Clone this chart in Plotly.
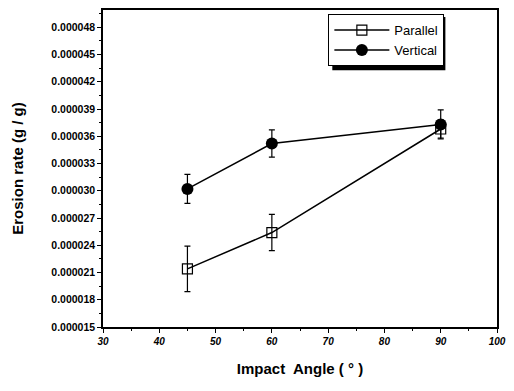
import plotly.graph_objects as go

angles = [45, 60, 90]
parallel = [0.0000214, 0.0000254, 0.0000368]
parallel_err = [0.0000025, 0.0000020, 0.0000010]
vertical = [0.0000302, 0.0000352, 0.0000373]
vertical_err = [0.0000016, 0.0000015, 0.0000016]
x_ticks = [30, 40, 50, 60, 70, 80, 90, 100]
y_ticks = [0.000015, 0.000018, 0.000021, 0.000024, 0.000027, 0.000030,
           0.000033, 0.000036, 0.000039, 0.000042, 0.000045, 0.000048]

font = "Liberation Sans, Arial, sans-serif"

fig = go.Figure()
fig.add_trace(go.Scatter(
    x=angles, y=parallel, name="Parallel", mode="lines+markers",
    line=dict(color="black", width=1.5),
    marker=dict(symbol="square-open", size=10, color="black", line=dict(width=1.2)),
    error_y=dict(type="data", array=parallel_err, color="black", thickness=1.2, width=3),
))
fig.add_trace(go.Scatter(
    x=angles, y=vertical, name="Vertical", mode="lines+markers",
    line=dict(color="black", width=1.5),
    marker=dict(symbol="circle", size=12, color="black"),
    error_y=dict(type="data", array=vertical_err, color="black", thickness=1.2, width=3),
))

# legend shadow
fig.add_shape(type="rect", xref="paper", yref="paper",
              x0=0.582, x1=0.869, y0=0.810, y1=0.978,
              fillcolor="black", line=dict(width=0), layer="above")

fig.update_layout(
    width=514, height=391,
    margin=dict(l=103, r=14, t=8, b=64),
    paper_bgcolor="white", plot_bgcolor="white",
    font=dict(family=font, color="black"),
    showlegend=True,
    legend=dict(x=0.572, y=0.987, xanchor="left", yanchor="top",
                bgcolor="white", bordercolor="black", borderwidth=1,
                font=dict(size=13, family=font), tracegroupgap=0,
                itemwidth=55),
    xaxis=dict(range=[30, 100], tickvals=x_ticks, ticks="outside", ticklen=4,
               tickwidth=1.2, tickcolor="black",
               minor=dict(dtick=5, tick0=30, ticks="outside", ticklen=2, tickcolor="black"),
               showline=True, linecolor="black", linewidth=1.5, mirror=True,
               showgrid=False, zeroline=False,
               tickfont=dict(size=10, family=font, weight="bold", style="italic"),
               title=dict(text="Impact  Angle ( ° )", font=dict(size=15, family=font, weight="bold"), standoff=18)),
    yaxis=dict(range=[0.000015, 0.0000499], tickvals=y_ticks, tickformat=".6f",
               ticks="outside", ticklen=4, tickwidth=1.2, tickcolor="black",
               minor=dict(dtick=0.0000015, tick0=0.000015, ticks="outside", ticklen=2, tickcolor="black"),
               showline=True, linecolor="black", linewidth=1.5, mirror=True,
               showgrid=False, zeroline=False,
               tickfont=dict(size=10.5, family=font, weight="bold"),
               title=dict(text="Erosion rate (g / g)", font=dict(size=15, family=font, weight="bold"), standoff=24)),
)

fig.write_html("out.html")
